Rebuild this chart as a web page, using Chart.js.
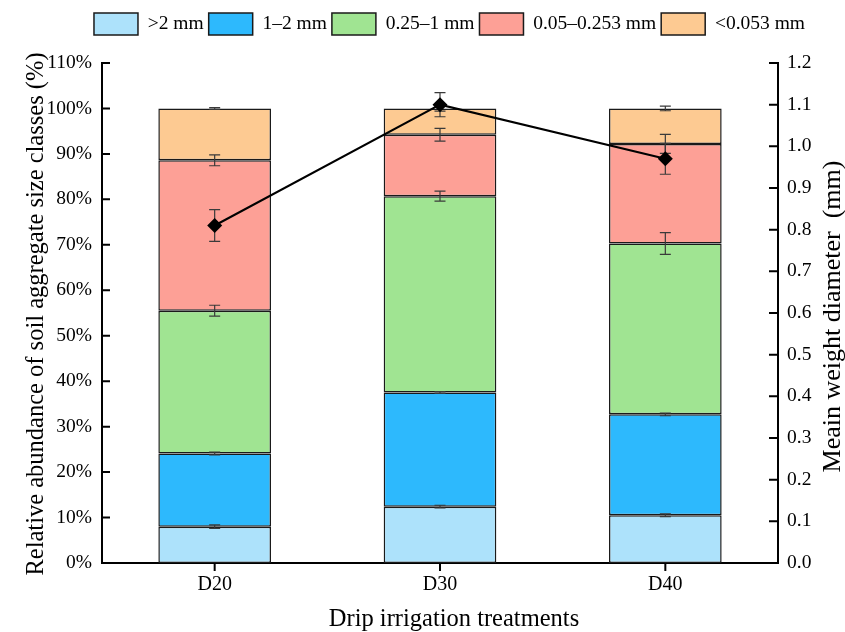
<!DOCTYPE html>
<html>
<head>
<meta charset="utf-8">
<script src="https://cdn.jsdelivr.net/npm/chart.js@4.4.1/dist/chart.umd.min.js"></script>
<style>
  html, body { margin: 0; padding: 0; background: #ffffff; }
  #wrap { width: 845px; height: 632px; }
</style>
</head>
<body>
<div id="wrap"><canvas id="c" width="845" height="632"></canvas></div>
<script>
// ---- data ----
const categories = ['D20', 'D30', 'D40'];
const seriesNames = ['>2 mm', '1\u20132 mm', '0.25\u20131 mm', '0.05\u20130.253 mm', '<0.053 mm'];
const gt2mm      = [8.0, 12.4, 10.5];
const mm1to2     = [16.1, 25.1, 22.2];
const mm025to1   = [31.4, 43.2, 37.6];
const mm005to025 = [33.1, 13.5, 21.9];
const lt0053     = [11.4, 5.8, 7.8];
const errGt2     = [0.4, 0.3, 0.3];
const err1to2    = [0.3, 0.2, 0.3];
const err025to1  = [1.2, 1.1, 2.4];
const err005     = [1.2, 1.4, 2.1];
const errLt0053  = [0.2, 0.6, 0.5];
const mwd        = [0.81, 1.10, 0.97];
const mwdErr     = [0.038, 0.029, 0.037];
const yTicksLeft = [0,10,20,30,40,50,60,70,80,90,100,110];
const yTicksRight = [0,0.1,0.2,0.3,0.4,0.5,0.6,0.7,0.8,0.9,1.0,1.1,1.2];
const xTitle = 'Drip irrigation treatments';
const yTitle = 'Relative abundance of soil aggregate size classes (%)';
const y1Title = 'Meain weight diameter  (mm)';

const seriesValues = [gt2mm, mm1to2, mm025to1, mm005to025, lt0053];
const seriesErrors = [errGt2, err1to2, err025to1, err005, errLt0053];
const colors = ['#ADE2FB', '#2DB9FD', '#A0E492', '#FDA096', '#FDCA92'];
const FONT = 'Liberation Serif';

const datasets = seriesValues.map((vals, i) => ({
  type: 'bar',
  label: seriesNames[i],
  data: vals,
  backgroundColor: colors[i],
  borderColor: '#1a1a1a',
  borderWidth: 1.5,
  borderSkipped: false,
  stack: 's',
  yAxisID: 'y',
  order: 1,
  barPercentage: 0.5,
  categoryPercentage: 1.0
}));
datasets.push({
  type: 'line',
  label: 'MWD',
  data: mwd,
  yAxisID: 'y1',
  borderColor: '#000',
  backgroundColor: '#000',
  borderWidth: 2,
  pointStyle: 'rectRot',
  pointRadius: 7.5,
  pointBorderWidth: 0,
  order: 0,
  tension: 0
});

const helperPlugin = {
  id: 'helper',
  beforeLayout(chart) {
    const lg = chart.legend;
    if (lg && !lg._patched) {
      const f = lg.fit;
      lg.fit = function () { f.call(this); this.height += 18; };
      lg._patched = true;
    }
  },
  afterLayout(chart) {
    if (chart.legend) { chart.legend.left += 27; chart.legend.right += 27; }
  },
  afterDatasetDraw(chart, args) {
    if (args.index !== 0) return;
    const ctx = chart.ctx, x = chart.scales.x, y = chart.scales.y, y1 = chart.scales.y1;
    ctx.save();
    ctx.strokeStyle = '#3a3a3a';
    ctx.lineWidth = 1.2;
    const cap = 5.5;
    const bar = (px, top, bot) => {
      ctx.beginPath();
      ctx.moveTo(px, top); ctx.lineTo(px, bot);
      ctx.moveTo(px - cap, top); ctx.lineTo(px + cap, top);
      ctx.moveTo(px - cap, bot); ctx.lineTo(px + cap, bot);
      ctx.stroke();
    };
    categories.forEach((c, j) => {
      const px = x.getPixelForValue(j);
      let cum = 0;
      seriesValues.forEach((vals, i) => {
        cum += vals[j];
        const e = seriesErrors[i][j];
        bar(px, y.getPixelForValue(cum + e), y.getPixelForValue(cum - e));
      });
      bar(px, y1.getPixelForValue(mwd[j] + mwdErr[j]), y1.getPixelForValue(mwd[j] - mwdErr[j]));
    });
    ctx.restore();
  },
  afterDraw(chart) {
    const ctx = chart.ctx, x = chart.scales.x, y = chart.scales.y, y1 = chart.scales.y1;
    const a = chart.chartArea;
    ctx.save();
    ctx.strokeStyle = '#000';
    ctx.lineWidth = 2;
    ctx.beginPath();
    y.ticks.forEach(t => { const p = y.getPixelForValue(t.value); ctx.moveTo(a.left, p); ctx.lineTo(a.left + 8, p); });
    y1.ticks.forEach(t => { const p = y1.getPixelForValue(t.value); ctx.moveTo(a.right, p); ctx.lineTo(a.right - 9, p); });
    categories.forEach((c, j) => { const p = x.getPixelForValue(j); ctx.moveTo(p, a.bottom); ctx.lineTo(p, a.bottom + 8); });
    ctx.stroke();
    // axis titles
    ctx.fillStyle = '#000';
    ctx.textAlign = 'center';
    ctx.textBaseline = 'alphabetic';
    ctx.font = '24.5px "' + FONT + '"';
    ctx.fillText(xTitle, 454, 626);
    ctx.save();
    ctx.translate(43, (a.top + a.bottom) / 2 + 1);
    ctx.rotate(-Math.PI / 2);
    ctx.fillText(yTitle, 0, 0);
    ctx.restore();
    ctx.save();
    ctx.font = '26px "' + FONT + '"';
    ctx.translate(839.5, 316.5);
    ctx.rotate(-Math.PI / 2);
    ctx.fillText(y1Title, 0, 0);
    ctx.restore();
    ctx.restore();
  }
};

new Chart(document.getElementById('c'), {
  data: { labels: categories, datasets },
  options: {
    responsive: false,
    animation: false,
    devicePixelRatio: 1,
    layout: { padding: { top: 8, left: 0, right: 0, bottom: 0 } },
    plugins: {
      legend: {
        position: 'top',
        align: 'center',
        labels: {
          boxWidth: 44,
          boxHeight: 22,
          padding: 5,
          color: '#000',
          font: { family: FONT, size: 19.5 },
          filter: item => item.datasetIndex < 5
        }
      },
      tooltip: { enabled: false }
    },
    scales: {
      x: {
        type: 'category',
        offset: true,
        grid: { display: false, drawTicks: false },
        border: { display: true, color: '#000', width: 2 },
        ticks: { color: '#000', font: { family: FONT, size: 20 }, padding: 10 },
        title: { display: false },
        afterFit: s => { s.height = 69; }
      },
      y: {
        position: 'left',
        stacked: true,
        min: 0, max: 110,
        afterBuildTicks: s => { s.ticks = yTicksLeft.map(v => ({ value: v })); },
        grid: { display: false, drawTicks: false },
        border: { display: true, color: '#000', width: 2 },
        ticks: { color: '#000', font: { family: FONT, size: 19.5 }, padding: 10, callback: v => v + '%' },
        title: { display: false },
        afterFit: s => { s.width = 102; }
      },
      y1: {
        position: 'right',
        min: 0, max: 1.2,
        afterBuildTicks: s => { s.ticks = yTicksRight.map(v => ({ value: v })); },
        grid: { display: false, drawTicks: false },
        border: { display: true, color: '#000', width: 2 },
        ticks: { color: '#000', font: { family: FONT, size: 19.5 }, padding: 9, callback: v => Number(v).toFixed(1) },
        title: { display: false },
        afterFit: s => { s.width = 67; }
      }
    }
  },
  plugins: [helperPlugin]
});
</script>
</body>
</html>
